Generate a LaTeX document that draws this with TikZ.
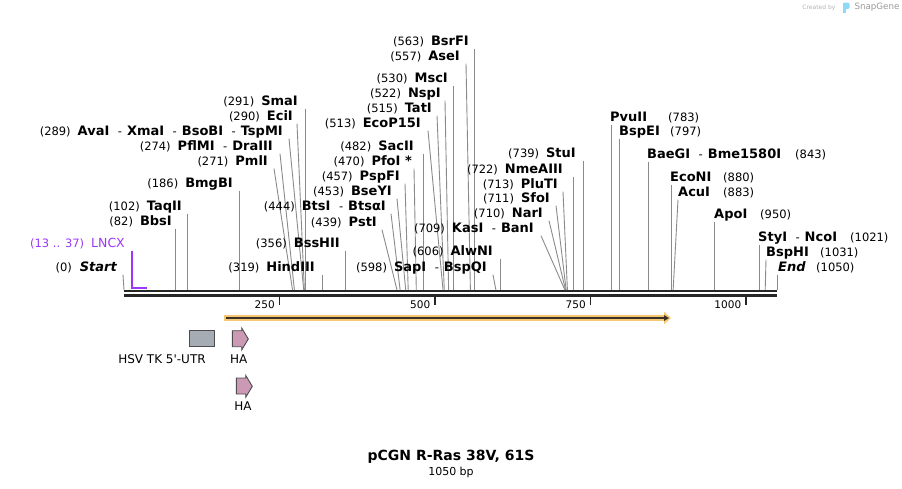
\documentclass[tikz,border=0pt]{standalone}
\usepackage{fontspec}
\setmainfont{DejaVu Sans}
\usetikzlibrary{arrows.meta}
\definecolor{cutgray}{RGB}{138,138,138}
\definecolor{lncx}{RGB}{155,55,250}
\definecolor{featorange}{RGB}{246,199,112}
\definecolor{featdark}{RGB}{58,50,40}
\definecolor{utrgray}{RGB}{166,172,180}
\definecolor{hapink}{RGB}{204,153,180}
\newcommand{\enz}[1]{{\fontsize{13}{15}\selectfont\bfseries #1}}
\newcommand{\orenz}{\hspace{8.5pt}-\hspace{5pt}}
\newcommand{\numgap}{\hspace{7pt}}
\begin{document}
\begin{tikzpicture}[x=1pt,y=-1pt,
    lbl/.style={anchor=base east,inner sep=0pt,text depth=3pt,font=\fontsize{11.5}{13}\selectfont},
    lbr/.style={anchor=base west,inner sep=0pt,text depth=3pt,font=\fontsize{11.5}{13}\selectfont},
    cut/.style={draw=cutgray,line width=0.9pt},
    hafeat/.style={draw=black!70,fill=hapink,line width=0.9pt,line join=miter}]
  \useasboundingbox (0,0) rectangle (902,488);
  \foreach \p in {0,13,37,82,102,186,271,274,289,290,291,319,356,439,444,453,457,470,482,513,515,522,530,557,563,598,606,709,710,711,713,722,739,783,797,843,880,883,950,1021,1031,1050}
    {\coordinate (s\p) at ({124+0.6219*\p},290);}
  \coordinate (bbl) at (124,293.4); \coordinate (bbr) at (777,293.4);
  \draw[line width=2.2pt,double distance=2pt,draw=black!85,double=white] (bbl) -- (bbr);

  \node[lbl] (start) at (117,271.5) {(0)\hspace{8pt}\enz{\itshape Start}};
  \draw[cut] ([xshift=6pt]start.south east) -- (s0);
  \node[lbl,text=lncx] (lncx) at (125,247.5) {(13 .. 37)\numgap{\fontsize{12.5}{14}\selectfont LNCX}};
  \coordinate (l13) at ({124+0.6219*13},288); \coordinate (l37) at ({124+0.6219*37},288);
  \draw[draw=lncx,line width=1.6pt] (l13 |- lncx.south east) -- (l13) -- (l37);
  \node[lbl] (bbsI) at (172,225.5) {(82)\numgap\enz{BbsI}}; \draw[cut] (s82 |- bbsI.south east) -- (s82);
  \node[lbl] (taqII) at (182,210.5) {(102)\numgap\enz{TaqII}}; \draw[cut] (s102 |- taqII.south east) -- (s102);
  \node[lbl] (bmgBI) at (233,187.5) {(186)\numgap\enz{BmgBI}}; \draw[cut] (s186 |- bmgBI.south east) -- (s186);
  \node[lbl] (pmlI) at (268,165.5) {(271)\numgap\enz{PmlI}}; \draw[cut] ([xshift=6pt]pmlI.south east) -- (s271);
  \node[lbl] (pflMI) at (273,150.5) {(274)\numgap\enz{PflMI}\orenz\enz{DraIII}}; \draw[cut] ([xshift=7pt]pflMI.south east) -- (s274);
  \node[lbl] (avaI) at (283,135.5) {(289)\numgap\enz{AvaI}\orenz\enz{XmaI}\orenz\enz{BsoBI}\orenz\enz{TspMI}};
  \draw[cut] ([xshift=6pt]avaI.south east) -- (s289);
  \node[lbl] (eciI) at (293,120.5) {(290)\numgap\enz{EciI}}; \draw[cut] ([xshift=4pt]eciI.south east) -- (s290);
  \node[lbl] (smaI) at (298,105.5) {(291)\numgap\enz{SmaI}}; \draw[cut] (s291 |- smaI.south east) -- (s291);
  \node[lbl] (hindIII) at (315,271.5) {(319)\numgap\enz{HindIII}}; \draw[cut] (s319 |- hindIII.south east) -- (s319);
  \node[lbl] (bssHII) at (340,247.5) {(356)\numgap\enz{BssHII}}; \draw[cut] (s356 |- bssHII.south east) -- (s356);
  \node[lbl] (pstI) at (377,226.5) {(439)\numgap\enz{PstI}}; \draw[cut] ([xshift=5pt]pstI.south east) -- (s439);
  \node[lbl] (btsI) at (386,210.5) {(444)\numgap\enz{BtsI}\orenz\enz{BtsαI}}; \draw[cut] ([xshift=5pt]btsI.south east) -- (s444);
  \node[lbl] (bseYI) at (392,195.5) {(453)\numgap\enz{BseYI}}; \draw[cut] ([xshift=5pt]bseYI.south east) -- (s453);
  \node[lbl] (pspFI) at (400,180.5) {(457)\numgap\enz{PspFI}}; \draw[cut] ([xshift=5pt]pspFI.south east) -- (s457);
  \node[lbl] (pfoI) at (412,165.5) {(470)\numgap\enz{PfoI *}}; \draw[cut] ([xshift=2pt]pfoI.south east) -- (s470);
  \node[lbl] (sacII) at (414,150.5) {(482)\numgap\enz{SacII}}; \draw[cut] (s482 |- sacII.south east) -- (s482);
  \node[lbl] (ecoP15I) at (421,127.5) {(513)\numgap\enz{EcoP15I}}; \draw[cut] ([xshift=7pt]ecoP15I.south east) -- (s513);
  \node[lbl] (tatI) at (432,112.5) {(515)\numgap\enz{TatI}}; \draw[cut] ([xshift=5pt]tatI.south east) -- (s515);
  \node[lbl] (nspI) at (441,97.5) {(522)\numgap\enz{NspI}}; \draw[cut] ([xshift=4pt]nspI.south east) -- (s522);
  \node[lbl] (mscI) at (448,82.5) {(530)\numgap\enz{MscI}}; \draw[cut] (s530 |- mscI.south east) -- (s530);
  \node[lbl] (aseI) at (460,60.5) {(557)\numgap\enz{AseI}}; \draw[cut] ([xshift=6pt]aseI.south east) -- (s557);
  \node[lbl] (bsrFI) at (469,45.5) {(563)\numgap\enz{BsrFI}}; \draw[cut] (s563 |- bsrFI.south east) -- (s563);
  \node[lbl] (sapI) at (487,271.5) {(598)\numgap\enz{SapI}\orenz\enz{BspQI}}; \draw[cut] ([xshift=6pt]sapI.south east) -- (s598);
  \node[lbl] (alwNI) at (493,255.5) {(606)\numgap\enz{AlwNI}}; \draw[cut] (s606 |- alwNI.south east) -- (s606);
  \node[lbl] (kasI) at (534,232.5) {(709)\numgap\enz{KasI}\orenz\enz{BanI}}; \draw[cut] ([xshift=7pt]kasI.south east) -- (s709);
  \node[lbl] (narI) at (543,217.5) {(710)\numgap\enz{NarI}}; \draw[cut] ([xshift=6pt]narI.south east) -- (s710);
  \node[lbl] (sfoI) at (550,202.5) {(711)\numgap\enz{SfoI}}; \draw[cut] ([xshift=6pt]sfoI.south east) -- (s711);
  \node[lbl] (pluTI) at (558,188.5) {(713)\numgap\enz{PluTI}}; \draw[cut] ([xshift=5pt]pluTI.south east) -- (s713);
  \node[lbl] (nmeAIII) at (563,173.5) {(722)\numgap\enz{NmeAIII}}; \draw[cut] (s722 |- nmeAIII.south east) -- (s722);
  \node[lbl] (stuI) at (576,157.5) {(739)\numgap\enz{StuI}}; \draw[cut] (s739 |- stuI.south east) -- (s739);

  \node[lbr] (pvuII) at (610,121.5) {\enz{PvuII}}; \node[lbr] (n783) at (668,121.5) {(783)};
  \draw[cut] (s783 |- pvuII.south west) -- (s783);
  \node[lbr] (bspEI) at (619,135.5) {\enz{BspEI}}; \node[lbr] (n797) at (670,135.5) {(797)};
  \draw[cut] (s797 |- bspEI.south west) -- (s797);
  \node[lbr] (baeGI) at (647,158.5) {\enz{BaeGI}\orenz\enz{Bme1580I}}; \node[lbr] (n843) at (795,158.5) {(843)};
  \draw[cut] (s843 |- baeGI.south west) -- (s843);
  \node[lbr] (ecoNI) at (670,181.5) {\enz{EcoNI}}; \node[lbr] (n880) at (723,181.5) {(880)};
  \draw[cut] (s880 |- ecoNI.south west) -- (s880);
  \node[lbr] (acuI) at (678,196.5) {\enz{AcuI}}; \node[lbr] (n883) at (723,196.5) {(883)};
  \draw[cut] (acuI.south west) -- (s883);
  \node[lbr] (apoI) at (714,218.5) {\enz{ApoI}}; \node[lbr] (n950) at (760,218.5) {(950)};
  \draw[cut] (s950 |- apoI.south west) -- (s950);
  \node[lbr] (styI) at (758,241.5) {\enz{StyI}\orenz\enz{NcoI}}; \node[lbr] (n1021) at (850,241.5) {(1021)};
  \draw[cut] (s1021 |- styI.south west) -- (s1021);
  \node[lbr] (bspHI) at (766,256.5) {\enz{BspHI}}; \node[lbr] (n1031) at (820,256.5) {(1031)};
  \draw[cut] (bspHI.south west) -- (s1031);
  \node[lbr] (endl) at (778,271.5) {\enz{\itshape End}}; \node[lbr] (n1050) at (816,271.5) {(1050)};
  \draw[cut] (s1050 |- endl.south west) -- (s1050);

  \foreach \t in {250,500,750,1000} {
    \coordinate (t\t) at ({124+0.6219*\t},296.6); \coordinate (u\t) at ({124+0.6219*\t},304.5);
    \draw[line width=1.3pt,draw=black!85] (t\t) -- (u\t);
    \node[lbl,font=\fontsize{10.5}{12}\selectfont] (k\t) at ({124+0.6219*\t-4.5},308) {\t};}

  \coordinate (fa) at (224,318); \coordinate (fb) at (671,318);
  \draw[draw=featorange,line width=6pt,-{Triangle[length=7pt,width=12pt]}] (fa) -- (fb);
  \draw[draw=featdark,line width=1.8pt,-{Triangle[length=5pt,width=5.5pt]}] ([xshift=1.5pt]fa) -- ([xshift=-2pt]fb);

  \node[draw=black!70,fill=utrgray,line width=0.9pt,minimum width=25.5pt,minimum height=16pt,inner sep=0pt] (utr) at (202,338.7) {};
  \node[font=\fontsize{12}{14}\selectfont] (utrl) at (162,359.5) {HSV TK 5\textquotesingle-UTR};
  \filldraw[hafeat] (232.3,330.7) -- (241.7,330.7) -- (241.7,328) -- (248.3,339) -- (241.7,350) -- (241.7,346.7) -- (232.3,346.7) -- cycle;
  \node[font=\fontsize{12}{14}\selectfont] (ha1) at (238.7,359.5) {HA};
  \filldraw[hafeat,shift={(4,47.3)}] (232.3,330.7) -- (241.7,330.7) -- (241.7,328) -- (248.3,339) -- (241.7,350) -- (241.7,346.7) -- (232.3,346.7) -- cycle;
  \node[font=\fontsize{12}{14}\selectfont] (ha2) at (243,406) {HA};

  \node[font=\fontsize{14}{16}\selectfont\bfseries] (title) at (451,457) {pCGN R-Ras 38V, 61S};
  \node[font=\fontsize{11}{13}\selectfont] (len) at (451,472) {1050 bp};

  \node[font=\fontsize{6}{7}\selectfont,text=black!30,anchor=east] (credit) at (839,7.5) {Created by};
  \fill[cyan!45,rounded corners=1.5pt] (843,2.5) rectangle (849.5,9);
  \fill[cyan!45] (843,2.5) rectangle (846,13);
  \node[font=\fontsize{8.7}{10}\selectfont,text=black!40,anchor=west] (snap) at (851,7.5) {SnapGene};
\end{tikzpicture}
\end{document}
